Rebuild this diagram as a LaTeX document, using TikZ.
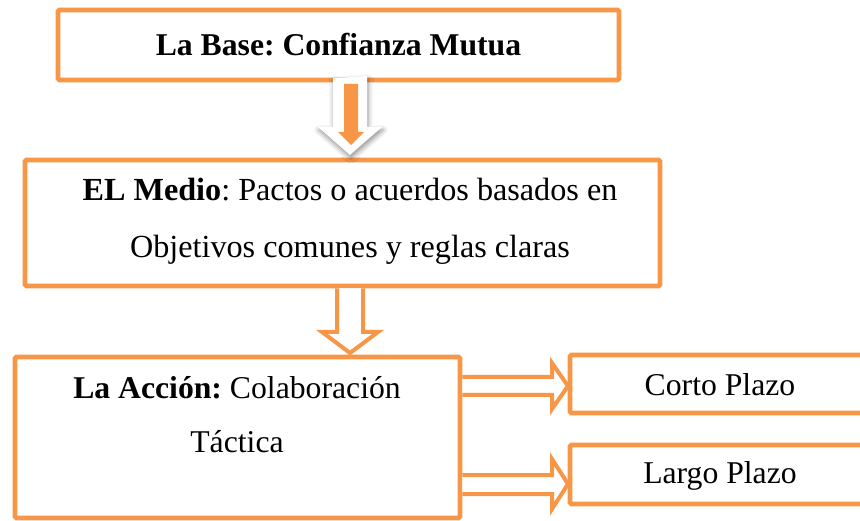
\documentclass[tikz,border=0pt]{standalone}
\usepackage{fontspec}
\setmainfont{Liberation Serif}
\usetikzlibrary{positioning, shadows.blur}
\definecolor{naranja}{HTML}{F79646}
\frenchspacing

\begin{document}
\begin{tikzpicture}[x=1pt, y=-1pt, line width=4.7pt,
		caja/.style={draw=naranja, rounded corners=1.5pt, inner sep=0pt},
		texto/.style={font=\fontsize{31.7}{57}\selectfont, align=center, inner sep=0pt},
		hueca/.style={draw=naranja, fill=white, line width=4pt, line join=miter}]
		\useasboundingbox (0,0) rectangle (860,521);

		% cajas
		\node[caja, texto, minimum width=561pt, minimum height=70pt] at (338.5,45) (base) {\textbf{La Base: Confianza Mutua}};
		\node[caja, minimum width=635pt, minimum height=126pt] at (342.5,223) (medio) {};
		\node[caja, minimum width=445pt, minimum height=161pt] at (237.5,437.5) (accion) {};
		\node[caja, minimum width=310pt, minimum height=58pt] at (725,384) (corto) {};
		\node[caja, minimum width=310pt, minimum height=59pt] at (725,474.5) (largo) {};

		% textos
		\node[texto, font=\fontsize{32.2}{57}\selectfont] at (350,221.5) (medio txt) {\textbf{EL Medio}: Pactos o acuerdos basados en\\Objetivos comunes y reglas claras};
		\node[texto, font=\fontsize{31.7}{54}\selectfont] at (237,415) (accion txt) {\textbf{La Acción:} Colaboración\\Táctica};
		\node[texto] at (720,385) (corto txt) {Corto Plazo};
		\node[texto] at (720,476) (largo txt) {Largo Plazo};

		% flecha base -> medio
		\fill[white, blur shadow={shadow xshift=1pt, shadow yshift=-3pt, shadow blur radius=5pt, shadow opacity=45}]
			(base.south -| 333,0) ++(0,-4) -- (333,127) -- (318,127) -- (350,155) -- (382,127) -- (367,127) -- (367,76) -- cycle;
		\fill[naranja] (344,84) -- (344,132) -- (338,132) -- (351,145) -- (364,132) -- (358,132) -- (358,84) -- cycle;

		% flecha medio -> accion
		\draw[hueca] (medio.south -| 337,0) -- (337,332) -- (322,332) -- (350,353) -- (378,332) -- (363,332) -- (medio.south -| 363,0);

		% flechas accion -> plazos
		\draw[hueca] (accion.east |- 0,377) -- (552,377) -- (552,363) -- (568,386) -- (552,409) -- (552,395) -- (accion.east |- 0,395);
		\draw[hueca] (accion.east |- 0,475) -- (552,475) -- (552,459) -- (568,484) -- (552,509) -- (552,494) -- (accion.east |- 0,494);
	\end{tikzpicture}
\end{document}
